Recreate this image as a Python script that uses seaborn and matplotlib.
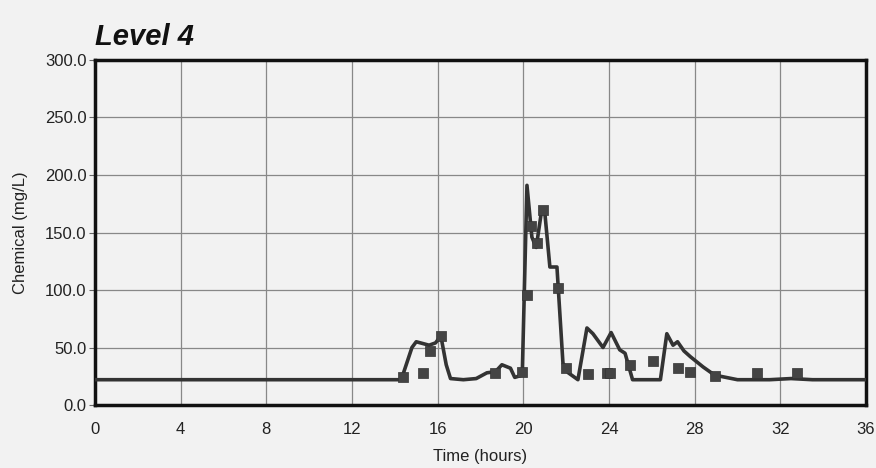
import matplotlib
matplotlib.use("Agg")
import matplotlib.pyplot as plt
import seaborn as sns
import pandas as pd

# Model line (hours, mg/L)
line_t = [0, 14.3, 14.8, 15.0, 15.6, 15.9, 16.15, 16.4, 16.6, 17.2, 17.8, 18.3, 18.7, 19.0,
          19.4, 19.6, 19.95, 20.17, 20.4, 20.6, 20.87, 21.0, 21.24, 21.57, 21.85, 22.1,
          22.55, 22.97, 23.25, 23.72, 24.1, 24.5, 24.75, 25.1, 26.4, 26.7, 26.99, 27.2,
          27.5, 27.8, 28.4, 28.93, 30.0, 31.5, 32.5, 33.5, 36]
line_v = [22, 22, 50, 55, 52, 54, 60, 35, 23, 22, 23, 28, 29, 35, 32, 24, 26, 191, 146,
          137, 171, 168, 120, 120, 36.5, 28, 22, 67, 62, 50, 63, 48, 45, 22, 22, 62, 52,
          55, 47, 42, 33, 26, 22, 22, 23, 22, 22]

# Observed samples
obs_t = [14.38, 15.3, 15.64, 16.15, 18.67, 19.95, 20.17, 20.35, 20.63, 20.92, 21.6,
         22.0, 23.0, 23.9, 24.05, 25.0, 26.05, 27.2, 27.8, 28.95, 30.9, 32.77]
obs_v = [24, 28, 47, 60, 28, 29, 96, 156, 141, 170, 102, 32, 27, 28, 28, 35, 38, 32,
         29, 25, 28, 28]

x_ticks = [0, 4, 8, 12, 16, 20, 24, 28, 32, 36]
y_ticks = [0, 50, 100, 150, 200, 250, 300]

sns.set_theme(style="whitegrid")
fam = ["Liberation Sans Narrow", "Liberation Sans", "DejaVu Sans"]
plt.rcParams["font.family"] = fam

bg = "#f2f2f2"
fig = plt.figure(figsize=(8.76, 4.68), dpi=100, facecolor=bg)
ax = fig.add_axes([0.1084, 0.1346, 0.8802, 0.7372])
ax.set_facecolor(bg)

line_df = pd.DataFrame({"t": line_t, "v": line_v})
obs_df = pd.DataFrame({"t": obs_t, "v": obs_v})

sns.lineplot(data=line_df, x="t", y="v", ax=ax, color="#333333", linewidth=2.6,
             estimator=None, sort=False, zorder=3)
sns.scatterplot(data=obs_df, x="t", y="v", ax=ax, marker="s", s=60, color="#444444",
                edgecolor="#333333", linewidth=0.5, zorder=4)

ax.set_xlim(0, 36)
ax.set_ylim(0, 300)
ax.set_xticks(x_ticks)
ax.set_xticklabels([str(t) for t in x_ticks])
ax.set_yticks(y_ticks)
ax.set_yticklabels([f"{v:.1f}" for v in y_ticks])
ax.grid(True, color="#888888", linewidth=0.9)
for s in ax.spines.values():
    s.set_visible(True)
    s.set_color("#111111")
    s.set_linewidth(2.5)
ax.tick_params(axis="y", which="both", left=True, length=4, width=0.8, color="#666666",
               labelsize=12, pad=2, labelcolor="#222222")
ax.tick_params(axis="x", which="both", bottom=False, labelsize=12, pad=6,
               labelcolor="#222222")
ax.set_xlabel("Time (hours)", fontsize=12, color="#222222", labelpad=9)
ax.set_ylabel("Chemical (mg/L)", fontsize=12, color="#222222", labelpad=12)
ax.set_title("Level 4", loc="left", fontsize=21, fontweight="bold", fontstyle="italic",
             color="#111111", pad=11, x=0.0)

fig.savefig("out.png", dpi=100, facecolor=bg)
